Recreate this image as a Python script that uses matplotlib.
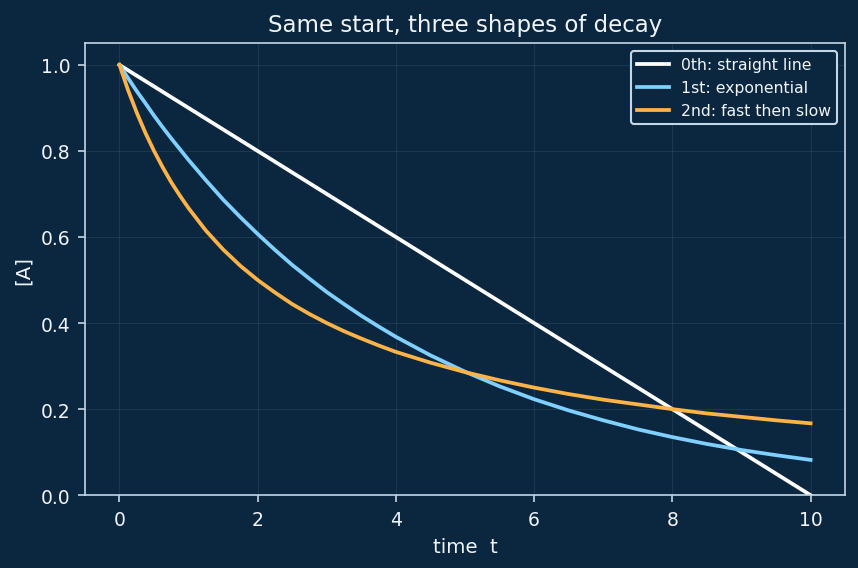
import matplotlib.pyplot as plt

BG = "#0b2740"
FG = "#f0f4f8"
EDGE = "#c5d6e6"

# time samples
t = [0, 0.125, 0.25, 0.375, 0.5, 0.625, 0.75, 0.875, 1, 1.25, 1.5, 1.75, 2,
     2.25, 2.5, 2.75, 3, 3.25, 3.5, 3.75, 4, 4.5, 5,
     5.5, 6, 6.5, 7, 7.5, 8, 8.5, 9, 9.5, 10]

# concentrations
zeroth = [1.0, 0.9875, 0.975, 0.9625, 0.95, 0.9375, 0.925, 0.9125, 0.9, 0.875, 0.85, 0.825, 0.8,
          0.775, 0.75, 0.725, 0.7, 0.675, 0.65, 0.625, 0.6, 0.55, 0.5,
          0.45, 0.4, 0.35, 0.3, 0.25, 0.2, 0.15, 0.1, 0.05, 0.0]
first = [1.0, 0.969, 0.939, 0.911, 0.882, 0.855, 0.829, 0.804, 0.779, 0.732, 0.687, 0.646, 0.607,
         0.570, 0.535, 0.503, 0.472, 0.444, 0.417, 0.392, 0.368, 0.325, 0.287,
         0.253, 0.223, 0.197, 0.174, 0.153, 0.135, 0.119, 0.105, 0.093, 0.082]
second = [1.0, 0.941, 0.889, 0.842, 0.8, 0.762, 0.727, 0.696, 0.667, 0.615, 0.571, 0.533, 0.5,
          0.471, 0.444, 0.421, 0.4, 0.381, 0.364, 0.348, 0.333, 0.308, 0.286,
          0.267, 0.25, 0.235, 0.222, 0.211, 0.2, 0.190, 0.182, 0.174, 0.167]

labels = ["0th: straight line", "1st: exponential", "2nd: fast then slow"]
colors = ["#ffffff", "#7fcfff", "#ffb347"]

fig, ax = plt.subplots(figsize=(5.72, 3.793), dpi=150)
fig.patch.set_facecolor(BG)
ax.set_facecolor(BG)

for y, lab, c in zip([zeroth, first, second], labels, colors):
    ax.plot(t, y, color=c, lw=1.8, label=lab)

ax.set_ylim(0, 1.05)
ax.set_xticks([0, 2, 4, 6, 8, 10])
ax.grid(True, color="#4a6680", alpha=0.28, lw=0.5)

ax.set_title("Same start, three shapes of decay", color=FG, fontsize=11)
ax.set_xlabel("time  t", color=FG, fontsize=9.5)
ax.set_ylabel("[A]", color=FG, fontsize=9.5)
ax.tick_params(colors=EDGE, labelcolor=FG, labelsize=9)
for s in ax.spines.values():
    s.set_color(EDGE)

leg = ax.legend(loc="upper right", fontsize=7.5, facecolor=BG, edgecolor=EDGE,
                framealpha=1, labelcolor=FG)

fig.subplots_adjust(left=0.099, right=0.985, top=0.922, bottom=0.128)
fig.savefig("out.png", dpi=150, facecolor=BG)
